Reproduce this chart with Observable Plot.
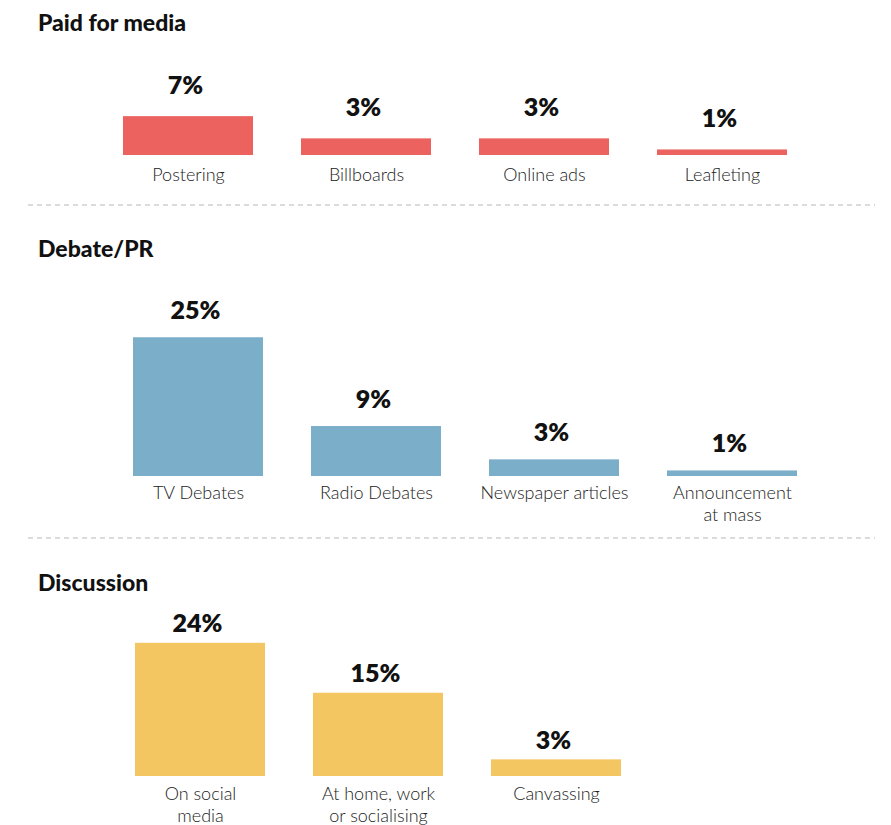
<!DOCTYPE html>
<html><head><meta charset="utf-8">
<script src="https://cdn.jsdelivr.net/npm/d3@7"></script>
<script src="https://cdn.jsdelivr.net/npm/@observablehq/plot@0.6"></script>
<style>
body{margin:0;background:#fff;font-family:Lato,"Open Sans",sans-serif;}
#root{position:relative;width:891px;height:825px;overflow:hidden;background:#fff;}
.title{position:absolute;left:38px;font-weight:900;font-size:23px;color:#111;line-height:24px;white-space:nowrap;}
.panel{position:absolute;left:0;}
.panel svg{background:transparent;overflow:visible;}
.sep{position:absolute;left:0;top:0;}
</style></head><body><div id="root"></div>
<script>
const panelTitles = ["Paid for media", "Debate/PR", "Discussion"];
const paidCategories = ["Postering", "Billboards", "Online ads", "Leafleting"];
const paidValues = [7, 3, 3, 1];
const debateCategories = ["TV Debates", "Radio Debates", "Newspaper articles", "Announcement\nat mass"];
const debateValues = [25, 9, 3, 1];
const discussionCategories = ["On social\nmedia", "At home, work\nor socialising", "Canvassing"];
const discussionValues = [24, 15, 3];
const panelColors = ["#EB625E", "#7BAEC9", "#F3C661"];

const root = document.getElementById("root");
const W = 891, step = 178.3, padIn = 0.268, pxPer = 5.55;

// dashed separators
const sep = d3.create("svg").attr("class", "sep").attr("width", W).attr("height", 825);
[205, 538].forEach(y => sep.append("line").attr("x1", 28).attr("x2", 875).attr("y1", y).attr("y2", y)
  .attr("stroke", "#cfcfcf").attr("stroke-width", 1.5).attr("stroke-dasharray", "5,4"));
root.appendChild(sep.node());

const layout = [
  {titleTop: 10, top: 40, height: 165, base: 115, barStart: 122, labelDy: -23, catDy: 11},
  {titleTop: 236, top: 270, height: 268, base: 206, barStart: 132, labelDy: -19, catDy: 8},
  {titleTop: 570, top: 600, height: 225, base: 176, barStart: 135, labelDy: -11, catDy: 9}
];
const sets = [[paidCategories, paidValues], [debateCategories, debateValues], [discussionCategories, discussionValues]];

sets.forEach(([cats, vals], i) => {
  const L = layout[i];
  const t = document.createElement("div");
  t.className = "title"; t.style.top = L.titleTop + "px"; t.textContent = panelTitles[i];
  root.appendChild(t);
  const data = cats.map((c, j) => ({cat: c, value: vals[j]}));
  const x0 = L.barStart - step * padIn / 2;
  const p = Plot.plot({
    width: W, height: L.height, margin: 0,
    style: {background: "transparent", fontFamily: "Lato, 'Open Sans', sans-serif", overflow: "visible"},
    x: {domain: cats, range: [x0, x0 + cats.length * step], paddingInner: padIn, paddingOuter: padIn / 2, axis: null},
    y: {domain: [0, 25], range: [L.base, L.base - 25 * pxPer], axis: null},
    marks: [
      Plot.barY(data, {x: "cat", y: "value", fill: panelColors[i]}),
      Plot.text(data, {x: "cat", y: "value", text: d => d.value + "%", lineAnchor: "bottom", dy: L.labelDy, dx: -3,
        fontSize: 25, fontWeight: 800, fill: "#111"}),
      Plot.text(data, {x: "cat", y: () => 0, text: "cat", lineAnchor: "top", dy: L.catDy,
        fontSize: 18, fontWeight: 300, fill: "#222", lineHeight: 1.17})
    ]
  });
  const wrap = document.createElement("div");
  wrap.className = "panel"; wrap.style.top = L.top + "px";
  wrap.appendChild(p);
  root.appendChild(wrap);
});
</script></body></html>
